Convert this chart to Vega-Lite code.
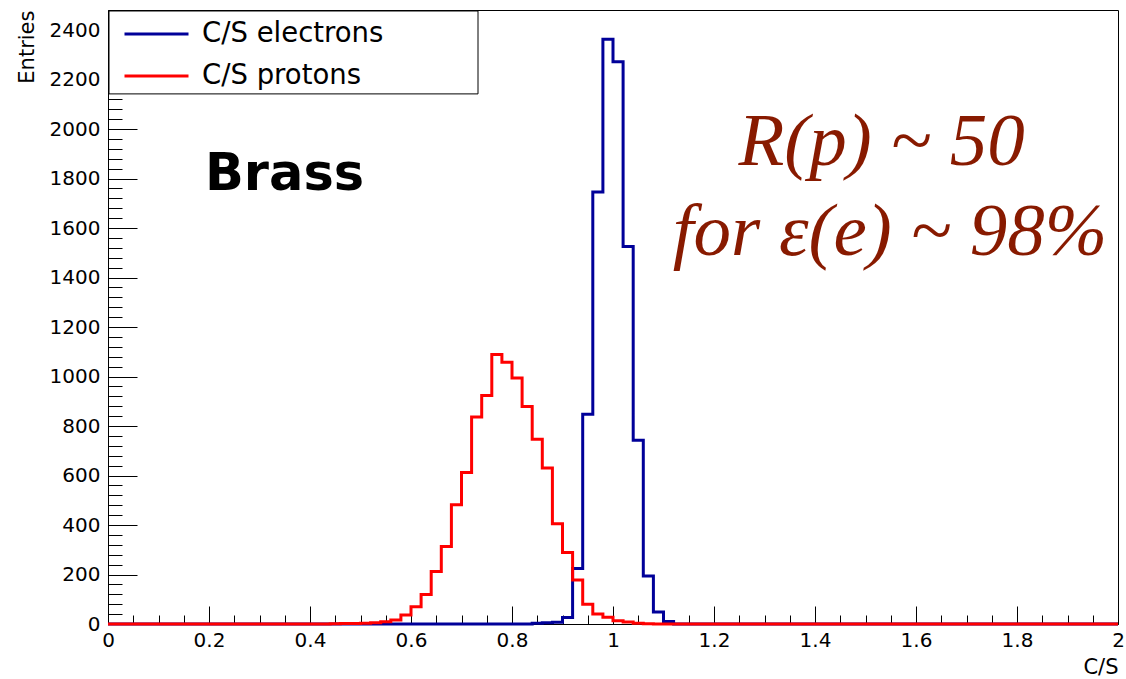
{
  "$schema": "https://vega.github.io/schema/vega-lite/v6.json",
  "width": 1010,
  "height": 614,
  "autosize": {"type": "none"},
  "padding": {"left": 108, "top": 10, "right": 8, "bottom": 55},
  "background": "white",
  "config": {
    "view": {"stroke": "black", "strokeWidth": 1},
    "axis": {"grid": false, "zindex": 0, "domainColor": "black", "tickColor": "black", "tickWidth": 1, "labelColor": "black", "titleColor": "black", "labelFont": "DejaVu Sans", "titleFont": "DejaVu Sans", "titleFontWeight": "normal"}
  },
  "datasets": {
    "hist": [
      {"series": "C/S electrons", "x": 0, "n": 0},
      {"series": "C/S electrons", "x": 0.84, "n": 3},
      {"series": "C/S electrons", "x": 0.86, "n": 5},
      {"series": "C/S electrons", "x": 0.88, "n": 7},
      {"series": "C/S electrons", "x": 0.9, "n": 26},
      {"series": "C/S electrons", "x": 0.92, "n": 224},
      {"series": "C/S electrons", "x": 0.94, "n": 848},
      {"series": "C/S electrons", "x": 0.96, "n": 1746},
      {"series": "C/S electrons", "x": 0.98, "n": 2363},
      {"series": "C/S electrons", "x": 1.0, "n": 2272},
      {"series": "C/S electrons", "x": 1.02, "n": 1525},
      {"series": "C/S electrons", "x": 1.04, "n": 742},
      {"series": "C/S electrons", "x": 1.06, "n": 194},
      {"series": "C/S electrons", "x": 1.08, "n": 48},
      {"series": "C/S electrons", "x": 1.1, "n": 10},
      {"series": "C/S electrons", "x": 1.12, "n": 0},
      {"series": "C/S electrons", "x": 2, "n": 0},
      {"series": "C/S protons", "x": 0, "n": 0},
      {"series": "C/S protons", "x": 0.44, "n": 1},
      {"series": "C/S protons", "x": 0.46, "n": 2},
      {"series": "C/S protons", "x": 0.48, "n": 2},
      {"series": "C/S protons", "x": 0.5, "n": 3},
      {"series": "C/S protons", "x": 0.52, "n": 5},
      {"series": "C/S protons", "x": 0.54, "n": 9},
      {"series": "C/S protons", "x": 0.56, "n": 16},
      {"series": "C/S protons", "x": 0.58, "n": 36},
      {"series": "C/S protons", "x": 0.6, "n": 70},
      {"series": "C/S protons", "x": 0.62, "n": 119},
      {"series": "C/S protons", "x": 0.64, "n": 212},
      {"series": "C/S protons", "x": 0.66, "n": 313},
      {"series": "C/S protons", "x": 0.68, "n": 482},
      {"series": "C/S protons", "x": 0.7, "n": 612},
      {"series": "C/S protons", "x": 0.72, "n": 836},
      {"series": "C/S protons", "x": 0.74, "n": 923},
      {"series": "C/S protons", "x": 0.76, "n": 1089},
      {"series": "C/S protons", "x": 0.78, "n": 1058},
      {"series": "C/S protons", "x": 0.8, "n": 994},
      {"series": "C/S protons", "x": 0.82, "n": 879},
      {"series": "C/S protons", "x": 0.84, "n": 747},
      {"series": "C/S protons", "x": 0.86, "n": 630},
      {"series": "C/S protons", "x": 0.88, "n": 405},
      {"series": "C/S protons", "x": 0.9, "n": 289},
      {"series": "C/S protons", "x": 0.92, "n": 178},
      {"series": "C/S protons", "x": 0.94, "n": 80},
      {"series": "C/S protons", "x": 0.96, "n": 40},
      {"series": "C/S protons", "x": 0.98, "n": 27},
      {"series": "C/S protons", "x": 1.0, "n": 13},
      {"series": "C/S protons", "x": 1.02, "n": 8},
      {"series": "C/S protons", "x": 1.04, "n": 3},
      {"series": "C/S protons", "x": 1.06, "n": 1},
      {"series": "C/S protons", "x": 1.08, "n": 0},
      {"series": "C/S protons", "x": 2, "n": 0}
    ]
  },
  "layer": [
    {
      "data": {"name": "hist"},
      "mark": {"type": "line", "interpolate": "step-after", "strokeWidth": 3},
      "encoding": {
        "x": {
          "field": "x", "type": "quantitative",
          "scale": {"domain": [0, 2], "nice": false, "zero": false},
          "axis": {
            "values": [0,0.05,0.1,0.15,0.2,0.25,0.3,0.35,0.4,0.45,0.5,0.55,0.6,0.65,0.7,0.75,0.8,0.85,0.9,0.95,1,1.05,1.1,1.15,1.2,1.25,1.3,1.35,1.4,1.45,1.5,1.55,1.6,1.65,1.7,1.75,1.8,1.85,1.9,1.95,2],
            "tickCount": 200,
            "labelExpr": "round(datum.value*100) % 20 === 0 ? format(datum.value, '.1~f') : ''",
            "tickSize": {"condition": {"test": "round(datum.value*100) % 20 === 0", "value": -18}, "value": -9},
            "labelPadding": 24,
            "labelFontSize": 20,
            "labelFlush": false,
            "labelOverlap": false,
            "title": "C/S",
            "titleFontSize": 21,
            "titleX": 1010,
            "titleY": 49,
            "titleAlign": "right",
            "titleBaseline": "alphabetic"
          }
        },
        "y": {
          "field": "n", "type": "quantitative",
          "scale": {"domain": [0, 2481], "nice": false},
          "axis": {
            "values": [0,40,80,120,160,200,240,280,320,360,400,440,480,520,560,600,640,680,720,760,800,840,880,920,960,1000,1040,1080,1120,1160,1200,1240,1280,1320,1360,1400,1440,1480,1520,1560,1600,1640,1680,1720,1760,1800,1840,1880,1920,1960,2000,2040,2080,2120,2160,2200,2240,2280,2320,2360,2400,2440,2480],
            "tickCount": 200,
            "labelExpr": "datum.value % 200 === 0 ? format(datum.value, 'd') : ''",
            "tickSize": {"condition": {"test": "datum.value % 200 === 0", "value": -29}, "value": -14},
            "labelPadding": 37,
            "labelFontSize": 20,
            "labelFlush": false,
            "labelOverlap": false,
            "title": "Entries",
            "titleFontSize": 21,
            "titleX": -75,
            "titleY": 0,
            "titleAngle": -90,
            "titleAlign": "right",
            "titleBaseline": "alphabetic"
          }
        },
        "color": {
          "field": "series", "type": "nominal",
          "scale": {"domain": ["C/S electrons", "C/S protons"], "range": ["#000099", "#ff0000"]},
          "legend": {
            "orient": "none",
            "legendX": 15,
            "legendY": 3,
            "zindex": 2,
            "title": null,
            "padding": 0,
            "symbolType": "stroke",
            "symbolSize": 4096,
            "symbolStrokeWidth": 3,
            "labelOffset": 12,
            "labelFont": "DejaVu Sans",
            "labelFontSize": 27.5,
            "labelColor": "black",
            "labelLimit": 400,
            "clipHeight": 42,
            "rowPadding": 0
          }
        }
      }
    },
    {
      "data": {"values": [{"box": "legend"}]},
      "mark": {"type": "rect", "fill": "white", "fillOpacity": 1, "stroke": "black", "strokeWidth": 1},
      "encoding": {
        "x": {"datum": 0.002, "type": "quantitative"},
        "x2": {"datum": 0.7327},
        "y": {"datum": 2477, "type": "quantitative"},
        "y2": {"datum": 2142}
      }
    },
    {
      "data": {"values": [{"label": "Brass"}]},
      "mark": {"type": "text", "font": "DejaVu Sans", "fontWeight": "bold", "fontSize": 51, "align": "left", "baseline": "alphabetic", "color": "black"},
      "encoding": {
        "x": {"datum": 0.192, "type": "quantitative"},
        "y": {"datum": 1754, "type": "quantitative"},
        "text": {"field": "label"}
      }
    },
    {
      "data": {"values": [{"label": "R(p) ~ 50"}]},
      "mark": {"type": "text", "font": "Liberation Serif", "fontStyle": "italic", "fontSize": 75, "align": "center", "baseline": "alphabetic", "color": "#881a00"},
      "encoding": {
        "x": {"datum": 1.532, "type": "quantitative"},
        "y": {"datum": 1855, "type": "quantitative"},
        "text": {"field": "label"}
      }
    },
    {
      "data": {"values": [{"label": "for ε(e) ~ 98%"}]},
      "mark": {"type": "text", "font": "Liberation Serif", "fontStyle": "italic", "fontSize": 75, "align": "center", "baseline": "alphabetic", "color": "#881a00"},
      "encoding": {
        "x": {"datum": 1.5485, "type": "quantitative"},
        "y": {"datum": 1491, "type": "quantitative"},
        "text": {"field": "label"}
      }
    }
  ]
}
